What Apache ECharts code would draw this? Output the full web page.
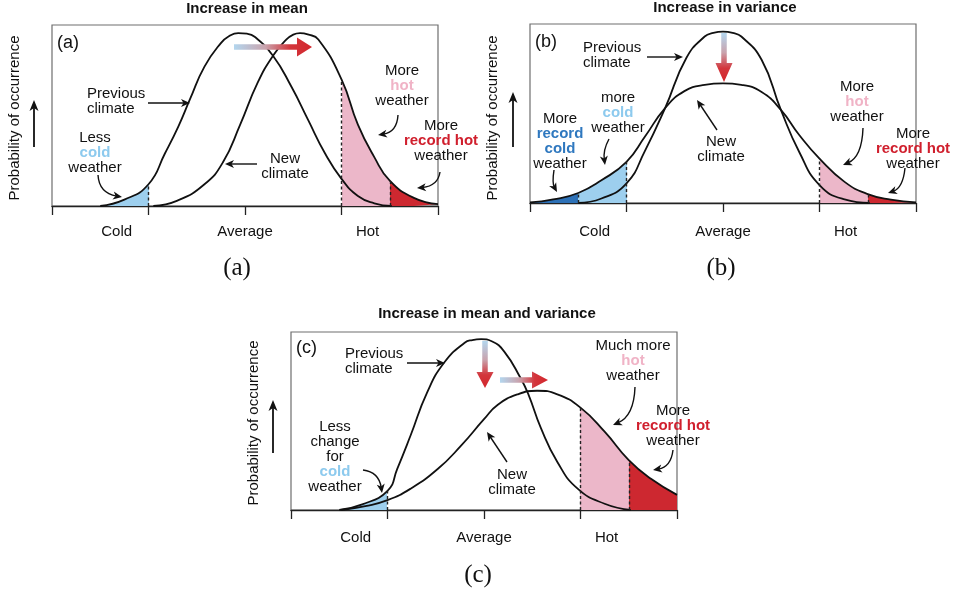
<!DOCTYPE html>
<html>
<head>
<meta charset="utf-8">
<script src="https://cdn.jsdelivr.net/npm/echarts@6/dist/echarts.min.js"></script>
<style>
  html, body { margin: 0; padding: 0; background: #fff; }
  #chart { width: 957px; height: 598px; }
</style>
</head>
<body>
<div id="chart"></div>
<script>
// ---- Axis text ----
const zoneNames = ['Cold', 'Average', 'Hot'];
const zoneLabelAt = [-1.33, 0, 1.27];
const axisTicks = [-2, -1, 0, 1, 2];
const yAxisName = 'Probability of occurrence';
const panelTitles = ['Increase in mean', 'Increase in variance', 'Increase in mean and variance'];
const panelTags = ['(a)', '(b)', '(c)'];

// ---- Thresholds (in standard-deviation units of the previous climate) ----
const recordColdAt = -1.5;
const coldAt = -1;
const hotAt = 1;
const recordHotAt = 1.5;

// ---- (a) increase in mean ----
const xPrevA = [-1.5, -1.25, -1, -0.83, -0.69, -0.57, -0.42, -0.25, -0.16, -0.07, 0.02, 0.1, 0.29, 0.48, 0.65, 0.83, 1, 1.17, 1.34, 1.52];
const yPrevA = [0, 0.035, 0.12, 0.29, 0.44, 0.59, 0.77, 0.9, 0.94, 0.955, 0.952, 0.935, 0.83, 0.66, 0.48, 0.29, 0.15, 0.055, 0.015, 0];
const xNewA = [-0.95, -0.7, -0.42, -0.23, -0.05, 0.13, 0.29, 0.43, 0.5, 0.57, 0.65, 0.76, 1, 1.17, 1.34, 1.5, 1.75, 2];
const yNewA = [0, 0.03, 0.12, 0.24, 0.45, 0.68, 0.83, 0.92, 0.947, 0.955, 0.948, 0.92, 0.7, 0.45, 0.27, 0.14, 0.045, 0.01];

// ---- (b) increase in variance ----
const xPrevB = [-1.5, -1.26, -1, -0.81, -0.6, -0.38, -0.19, -0.1, 0, 0.1, 0.19, 0.4, 0.6, 0.79, 1, 1.26, 1.52];
const yPrevB = [0, 0.025, 0.11, 0.29, 0.53, 0.81, 0.93, 0.95, 0.957, 0.95, 0.93, 0.8, 0.52, 0.285, 0.1, 0.02, 0];
const xNewB = [-2, -1.76, -1.5, -1.26, -1, -0.81, -0.6, -0.4, -0.19, 0, 0.19, 0.4, 0.6, 0.79, 1, 1.26, 1.5, 1.74, 2];
const yNewB = [0.003, 0.02, 0.056, 0.127, 0.23, 0.37, 0.53, 0.625, 0.66, 0.668, 0.66, 0.62, 0.52, 0.38, 0.248, 0.118, 0.05, 0.019, 0.004];

// ---- (c) increase in mean and variance ----
const xPrevC = [-1.5, -1.27, -1, -0.9, -0.76, -0.59, -0.41, -0.2, -0.12, -0.03, 0.08, 0.21, 0.38, 0.46, 0.59, 0.76, 0.97, 1.25, 1.52];
const yPrevC = [0, 0.03, 0.108, 0.23, 0.42, 0.66, 0.83, 0.94, 0.955, 0.96, 0.948, 0.89, 0.74, 0.65, 0.46, 0.27, 0.12, 0.035, 0];
const xNewC = [-1.48, -1.23, -1, -0.76, -0.48, -0.24, 0, 0.14, 0.35, 0.55, 0.76, 1, 1.25, 1.5, 1.73, 2];
const yNewC = [0, 0.022, 0.055, 0.12, 0.23, 0.36, 0.51, 0.59, 0.65, 0.67, 0.65, 0.575, 0.44, 0.28, 0.175, 0.085];

// ---- Styling ----
const FONT = "'Liberation Sans', Arial, Helvetica, sans-serif";
const SERIF = "'Liberation Serif', 'DejaVu Serif', serif";
const INK = '#111';
const C_LIGHTBLUE = '#9dcfee';
const C_DARKBLUE = '#2d71b7';
const C_PINK = '#ecb7c9';
const C_RED = '#cd2830';
const T_COLD = '#8dcaee';
const T_RCOLD = '#2f78bf';
const T_HOT = '#f0b3c6';
const T_RHOT = '#d01f2d';
const SMOOTH = 0.5;
const LH = 15;

const grids = [
  { left: 52, top: 25, width: 386, height: 181 },
  { left: 530, top: 24, width: 386, height: 179 },
  { left: 291, top: 332, width: 386, height: 178 }
];
const labelMargins = [18, 21, 20];

const pts = (xs, ys) => xs.map((x, i) => [x, ys[i]]);
const valueAt = (xs, ys, x) => ys[xs.indexOf(x)];

const chart = echarts.init(document.getElementById('chart'), null, { renderer: 'canvas' });

const xAxes = grids.map((g, i) => ({
  type: 'value', gridIndex: i, min: -2, max: 2, interval: 1,
  axisLine: { show: true, onZero: false, lineStyle: { color: '#222', width: 1.3 } },
  axisTick: { show: true, customValues: axisTicks, length: 9, lineStyle: { color: '#222', width: 1.3 } },
  axisLabel: {
    show: true, customValues: zoneLabelAt, margin: labelMargins[i],
    color: INK, fontSize: 15, fontFamily: FONT,
    formatter: v => zoneNames[zoneLabelAt.findIndex(p => Math.abs(p - v) < 1e-6)] || ''
  },
  splitLine: { show: false }
}));
const yAxes = grids.map((g, i) => ({ type: 'value', gridIndex: i, min: 0, max: 1, show: false }));

const series = [];
const visualMaps = [];

// Shaded area under a curve, coloured by temperature band
function addFill(gi, xs, ys, pieces) {
  visualMaps.push({
    type: 'piecewise', show: false, dimension: 0, seriesIndex: series.length,
    pieces: pieces, outOfRange: { color: 'rgba(0,0,0,0)' }
  });
  series.push({
    type: 'line', xAxisIndex: gi, yAxisIndex: gi, data: pts(xs, ys),
    smooth: SMOOTH, symbol: 'none', silent: true, z: 1,
    lineStyle: { width: 0, opacity: 0 }, areaStyle: { opacity: 1 }
  });
}

// Curve outline with dashed threshold markers up to the curve
function addCurve(gi, xs, ys, marks) {
  series.push({
    type: 'line', xAxisIndex: gi, yAxisIndex: gi, data: pts(xs, ys),
    smooth: SMOOTH, symbol: 'none', silent: true, z: 3,
    lineStyle: { color: INK, width: 1.8 },
    markLine: {
      silent: true, symbol: ['none', 'none'], label: { show: false },
      lineStyle: { color: '#222', type: [3, 2.5], width: 1.4 },
      data: marks.map(x => [{ coord: [x, 0] }, { coord: [x, valueAt(xs, ys, x)] }])
    }
  });
}

// (a)
addFill(0, xPrevA, yPrevA, [{ gte: -5, lt: coldAt, color: C_LIGHTBLUE }]);
addFill(0, xNewA, yNewA, [{ gte: hotAt, lt: recordHotAt, color: C_PINK }, { gte: recordHotAt, lte: 5, color: C_RED }]);
addCurve(0, xPrevA, yPrevA, [coldAt]);
addCurve(0, xNewA, yNewA, [hotAt, recordHotAt]);
// (b)
addFill(1, xNewB, yNewB, [
  { gte: -5, lt: recordColdAt, color: C_DARKBLUE },
  { gte: recordColdAt, lt: coldAt, color: C_LIGHTBLUE },
  { gte: hotAt, lt: recordHotAt, color: C_PINK },
  { gte: recordHotAt, lte: 5, color: C_RED }
]);
addCurve(1, xPrevB, yPrevB, []);
addCurve(1, xNewB, yNewB, [recordColdAt, coldAt, hotAt, recordHotAt]);
// (c)
addFill(2, xPrevC, yPrevC, [{ gte: -5, lt: coldAt, color: C_LIGHTBLUE }]);
addFill(2, xNewC, yNewC, [{ gte: hotAt, lt: recordHotAt, color: C_PINK }, { gte: recordHotAt, lte: 5, color: C_RED }]);
addCurve(2, xPrevC, yPrevC, [coldAt]);
addCurve(2, xNewC, yNewC, [hotAt, recordHotAt]);

// ---- Annotation graphics ----
const tok = (fill) => ({ fill: fill, fontWeight: 'bold', fontSize: 15, fontFamily: FONT, lineHeight: LH });
const rich = { hot: tok(T_HOT), rhot: tok(T_RHOT), cold: tok(T_COLD), rcold: tok(T_RCOLD) };
function note(x, y, text, align) {
  return {
    type: 'text', x: x, y: y, z: 20, silent: true,
    style: {
      text: text, fill: INK, fontSize: 15, fontFamily: FONT, lineHeight: LH,
      align: align || 'center', verticalAlign: 'middle', rich: rich
    }
  };
}
function heading(x, y, text) {
  return { type: 'text', x: x, y: y, z: 20, silent: true,
    style: { text: text, fill: INK, fontSize: 15, fontWeight: 'bold', fontFamily: FONT, align: 'center', verticalAlign: 'middle' } };
}
function tag(x, y, text) {
  return { type: 'text', x: x, y: y, z: 20, silent: true,
    style: { text: text, fill: INK, fontSize: 18, fontFamily: FONT, align: 'left', verticalAlign: 'middle' } };
}
function caption(x, y, text) {
  return { type: 'text', x: x, y: y, z: 20, silent: true,
    style: { text: text, fill: INK, fontSize: 25, fontFamily: SERIF, align: 'center', verticalAlign: 'middle' } };
}
function yName(x, y) {
  return { type: 'text', x: x, y: y, rotation: Math.PI / 2, z: 20, silent: true,
    style: { text: yAxisName, fill: INK, fontSize: 15, fontFamily: FONT, align: 'center', verticalAlign: 'middle' } };
}
// Thin black pointer arrow, optionally curved through a control point
function pointer(x1, y1, x2, y2, cx, cy, lw, L, W) {
  lw = lw || 1.4; L = L || 9; W = W || 4;
  const curved = cx != null;
  const fx = curved ? cx : x1, fy = curved ? cy : y1;
  let dx = x2 - fx, dy = y2 - fy;
  const len = Math.hypot(dx, dy); dx /= len; dy /= len;
  const bx = x2 - dx * L, by = y2 - dy * L;
  const px = -dy, py = dx;
  const ex = x2 - dx * L * 0.6, ey = y2 - dy * L * 0.6;
  const line = curved
    ? { type: 'bezierCurve', shape: { x1: x1, y1: y1, x2: ex, y2: ey, cpx1: cx, cpy1: cy }, style: { stroke: INK, lineWidth: lw, fill: null } }
    : { type: 'line', shape: { x1: x1, y1: y1, x2: ex, y2: ey }, style: { stroke: INK, lineWidth: lw } };
  const head = {
    type: 'polygon',
    shape: { points: [[x2, y2], [bx + px * W, by + py * W], [x2 - dx * L * 0.72, y2 - dy * L * 0.72], [bx - px * W, by - py * W]] },
    style: { fill: INK }
  };
  return { type: 'group', z: 20, silent: true, children: [line, head] };
}
// Broad shift arrow, fading from blue to red
const shiftGrad = (horizontal) => new echarts.graphic.LinearGradient(0, 0, horizontal ? 1 : 0, horizontal ? 0 : 1, [
  { offset: 0, color: '#b3d6ee' },
  { offset: 0.4, color: '#c9a3ad' },
  { offset: 0.72, color: '#d3363c' },
  { offset: 1, color: '#d3262c' }
]);
function shiftH(x0, xt, y, t, H, L) {
  const xh = xt - L;
  return { type: 'polygon', z: 15, silent: true,
    shape: { points: [[x0, y - t / 2], [xh, y - t / 2], [xh, y - H / 2], [xt, y], [xh, y + H / 2], [xh, y + t / 2], [x0, y + t / 2]] },
    style: { fill: shiftGrad(true) } };
}
function shiftV(x, y0, yt, t, W, L) {
  const yh = yt - L;
  return { type: 'polygon', z: 15, silent: true,
    shape: { points: [[x - t / 2, y0], [x - t / 2, yh], [x - W / 2, yh], [x, yt], [x + W / 2, yh], [x + t / 2, yh], [x + t / 2, y0]] },
    style: { fill: shiftGrad(false) } };
}

const graphics = [
  // headings and captions
  heading(247, 9, panelTitles[0]),
  heading(725, 8, panelTitles[1]),
  heading(487, 314, panelTitles[2]),
  caption(237, 268, '(a)'),
  caption(721, 268, '(b)'),
  caption(478, 575, '(c)'),
  tag(57, 43, panelTags[0]),
  tag(535, 42, panelTags[1]),
  tag(296, 348, panelTags[2]),
  // vertical axis names with upward arrows
  yName(15, 118), yName(493, 118), yName(254, 423),
  pointer(34, 147, 34, 100, null, null, 1.8, 11, 4.5),
  pointer(513, 147, 513, 92, null, null, 1.8, 11, 4.5),
  pointer(273, 453, 273, 400, null, null, 1.8, 11, 4.5),

  // (a)
  note(87, 101, 'Previous\nclimate', 'left'),
  pointer(148, 103, 190, 103),
  note(95, 153, 'Less\n{cold|cold}\nweather'),
  pointer(98, 175, 122, 197, 99, 193),
  note(285, 166, 'New\nclimate'),
  pointer(257, 164, 225, 164),
  note(402, 86, 'More\n{hot|hot}\nweather'),
  pointer(398, 115, 378, 135, 397, 132),
  note(441, 141, 'More\n{rhot|record hot}\nweather'),
  pointer(440, 172, 417, 188, 438, 186),
  shiftH(234, 312, 47, 5.5, 19, 15),

  // (b)
  note(583, 55, 'Previous\nclimate', 'left'),
  pointer(647, 57, 683, 57),
  note(560, 141, 'More\n{rcold|record}\n{rcold|cold}\nweather'),
  pointer(554, 170, 557, 192, 552, 183),
  note(618, 113, 'more\n{cold|cold}\nweather'),
  pointer(609, 139, 605, 165, 603, 150),
  note(721, 149, 'New\nclimate'),
  pointer(717, 130, 697, 100),
  note(857, 102, 'More\n{hot|hot}\nweather'),
  pointer(863, 128, 843, 165, 862, 157),
  note(913, 149, 'More\n{rhot|record hot}\nweather'),
  pointer(905, 168, 888, 193, 903, 188),
  shiftV(724, 33, 82, 5.5, 17, 19),

  // (c)
  note(345, 361, 'Previous\nclimate', 'left'),
  pointer(407, 363, 445, 363),
  note(335, 457, 'Less\nchange\nfor\n{cold|cold}\nweather'),
  pointer(363, 470, 382, 493, 379, 472),
  note(512, 482, 'New\nclimate'),
  pointer(507, 462, 487, 432),
  note(633, 361, 'Much more\n{hot|hot}\nweather'),
  pointer(635, 387, 613, 425, 634, 416),
  note(673, 426, 'More\n{rhot|record hot}\nweather'),
  pointer(673, 450, 653, 470, 671, 467),
  shiftV(485, 341, 388, 5.5, 17, 16),
  shiftH(500, 548, 380, 5.5, 17, 16)
];

chart.setOption({
  animation: false,
  backgroundColor: '#fff',
  grid: grids.map(g => Object.assign({ show: true, borderColor: '#6e6e6e', borderWidth: 1.2, backgroundColor: 'transparent' }, g)),
  xAxis: xAxes,
  yAxis: yAxes,
  visualMap: visualMaps,
  series: series,
  graphic: graphics
});
</script>
</body>
</html>
